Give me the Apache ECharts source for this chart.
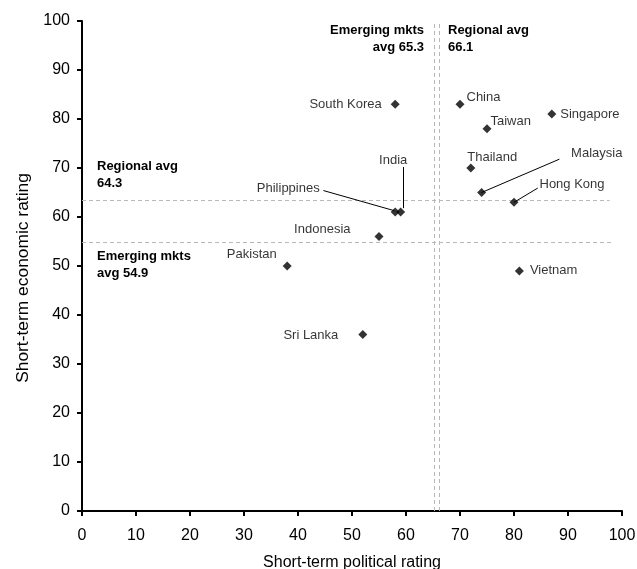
<!DOCTYPE html>
<html>
<head>
<meta charset="utf-8">
<script src="https://cdn.jsdelivr.net/npm/echarts@6/dist/echarts.min.js"></script>
<style>
html,body{margin:0;padding:0;background:#fff;}
#chart{width:637px;height:569px;}
</style>
</head>
<body>
<div id="chart"></div>
<script>
// ---- data ----
const countries = ['South Korea','China','Singapore','Taiwan','Thailand','Malaysia','Hong Kong','Philippines','India','Indonesia','Vietnam','Pakistan','Sri Lanka'];
const politicalRating = [58, 70, 87, 75, 72, 74, 80, 58, 59, 55, 81, 38, 52];
const economicRating  = [83, 83, 81, 78, 70, 65, 63, 61, 61, 56, 49, 50, 36];
const axisTicks = [0, 10, 20, 30, 40, 50, 60, 70, 80, 90, 100];
const emergingAvgPolitical = 65.3;
const regionalAvgPolitical = 66.1;
const emergingAvgEconomic = 54.9;
const regionalAvgEconomic = 63.4;
const avgLabels = ['Emerging mkts\navg 65.3', 'Regional avg\n66.1', 'Regional avg\n64.3', 'Emerging mkts\navg 54.9'];
const xTitle = 'Short-term political rating';
const yTitle = 'Short-term economic rating';

// ---- label layout (positions/styles) ----
const FONT = 'Liberation Sans, Arial, Helvetica, sans-serif';
const labelLayout = {
  'South Korea': {position:'left',  offset:[-9, 0]},
  'China':       {position:'right', offset:[2, -7]},
  'Singapore':   {position:'right', offset:[4, 0]},
  'Taiwan':      {position:'right', offset:[-1, -7]},
  'Thailand':    {position:'right', offset:[-8, -11]},
  'Malaysia':    {position:'right', offset:[85, -39]},
  'Hong Kong':   {position:'right', offset:[21, -18]},
  'Philippines': {position:'left',  offset:[-71, -24]},
  'India':       {position:'right', offset:[-26, -52]},
  'Indonesia':   {position:'left',  offset:[-24, -7]},
  'Vietnam':     {position:'right', offset:[6, 0]},
  'Pakistan':    {position:'left',  offset:[-6, -12]},
  'Sri Lanka':   {position:'left',  offset:[-20, 1]}
};
// leader lines: [from point, to label] in data units
const leaderLines = [
  [[74, 65], [88.4, 71.8]],
  [[80, 63], [84.4, 65.9]],
  [[59.4, 61.8], [59.4, 70.2]],
  [[57.8, 61.3], [44.7, 65.4]]
];

const scatterData = countries.map((c, i) => ({
  name: c,
  value: [politicalRating[i], economicRating[i]],
  label: {position: labelLayout[c].position, offset: labelLayout[c].offset}
}));

const dashStyle = {color:'#b8b8b8', type:[4,3], width:1};

const chart = echarts.init(document.getElementById('chart'), null, {renderer:'canvas'});
const axisCommon = {
  type:'value', min:0, max:100, interval:10,
  axisLine:{show:true, onZero:false, lineStyle:{color:'#000', width:2}},
  axisTick:{show:true, inside:false, length:5, lineStyle:{color:'#000', width:2}},
  splitLine:{show:false},
  axisLabel:{color:'#000', fontSize:16, fontFamily:FONT,
    formatter: v => axisTicks.includes(v) ? String(v) : ''},
  nameLocation:'middle',
};
chart.setOption({
  animation:false,
  backgroundColor:'#fff',
  grid:{left:82, right:15, top:21, bottom:58, containLabel:false, outerBoundsMode:'none'},
  xAxis: Object.assign({}, axisCommon, {
    name:xTitle, nameGap:44,
    nameTextStyle:{color:'#000', fontSize:16, fontFamily:FONT},
    axisLabel: Object.assign({}, axisCommon.axisLabel, {margin:17})
  }),
  yAxis: Object.assign({}, axisCommon, {
    axisLabel: Object.assign({}, axisCommon.axisLabel, {margin:12})
  }),
  series:[
    {
      type:'line', data:[], silent:true,
      markLine:{
        silent:true, symbol:['none','none'], label:{show:false},
        lineStyle:dashStyle,
        data:[
          [{coord:[emergingAvgPolitical,0]},{coord:[emergingAvgPolitical,100]}],
          [{coord:[regionalAvgPolitical,0]},{coord:[regionalAvgPolitical,100]}],
          [{coord:[0,regionalAvgEconomic]},{coord:[97.7,regionalAvgEconomic]}],
          [{coord:[0,emergingAvgEconomic]},{coord:[98.5,emergingAvgEconomic]}]
        ]
      }
    },
    {
      type:'scatter', symbol:'diamond', symbolSize:9,
      itemStyle:{color:'#000'},
      data: scatterData,
      label:{show:true, formatter:'{b}', distance:0, color:'#000', fontSize:13, fontFamily:FONT},
      emphasis:{disabled:true},
      markLine:{
        silent:true, symbol:['none','none'], label:{show:false},
        lineStyle:{color:'#000', type:'solid', width:1},
        data: leaderLines.map(l => [{coord:l[0]},{coord:l[1]}])
      },
      z:5
    }
  ],
  graphic:[
    {type:'text', x:23, y:278, rotation:Math.PI/2, style:{text:yTitle, font:'17.4px '+FONT, fill:'#000', textAlign:'center', textVerticalAlign:'middle'}},
    {type:'text', x:424, y:22, style:{text:avgLabels[0], font:'bold 13px '+FONT, fill:'#000', textAlign:'right', textVerticalAlign:'top', lineHeight:17}},
    {type:'text', x:448, y:22, style:{text:avgLabels[1], font:'bold 13px '+FONT, fill:'#000', textAlign:'left', textVerticalAlign:'top', lineHeight:17}},
    {type:'text', x:97, y:158, style:{text:avgLabels[2], font:'bold 13px '+FONT, fill:'#000', textAlign:'left', textVerticalAlign:'top', lineHeight:17}},
    {type:'text', x:97, y:248, style:{text:avgLabels[3], font:'bold 13px '+FONT, fill:'#000', textAlign:'left', textVerticalAlign:'top', lineHeight:17}}
  ]
});
</script>
</body>
</html>
